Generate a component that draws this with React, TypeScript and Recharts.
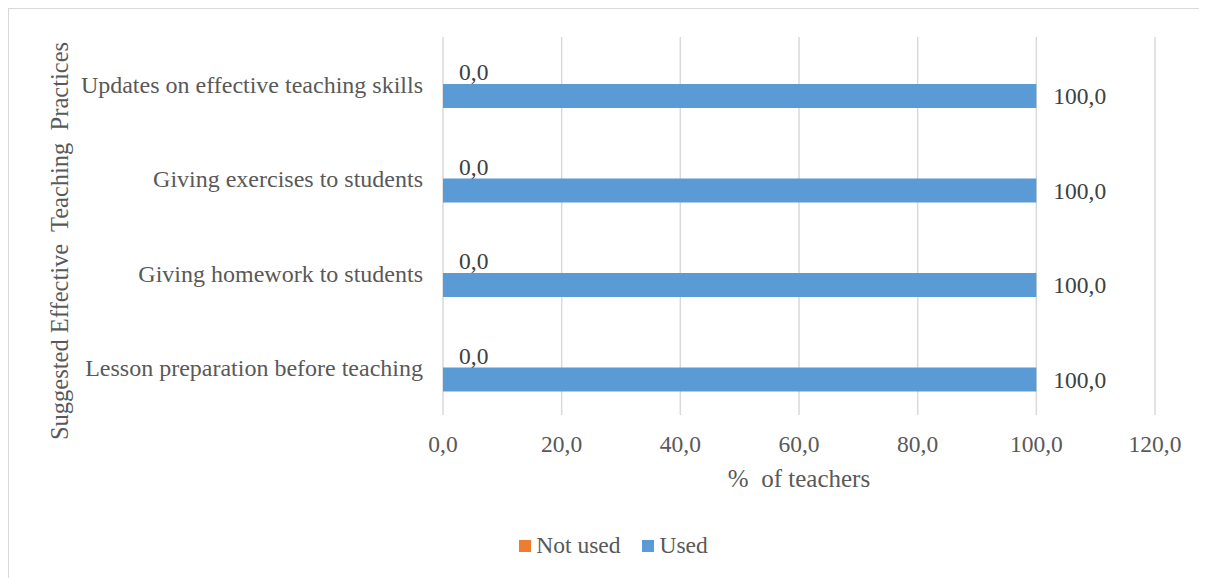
import React from 'react';
import { BarChart, Bar, XAxis, YAxis, CartesianGrid, Legend, LabelList, Label } from 'recharts';

const categories = [
  'Updates on effective teaching skills',
  'Giving exercises to students',
  'Giving homework to students',
  'Lesson preparation before teaching',
];
const notUsedValues = [0, 0, 0, 0];
const usedValues = [100, 100, 100, 100];
const xTicks = [0, 20, 40, 60, 80, 100, 120];

const data = categories.map((name, i) => ({
  name,
  notUsed: notUsedValues[i],
  used: usedValues[i],
}));

const FONT = '"Liberation Serif", "Times New Roman", serif';
const BAR_SIZE = 24;
const fmt = (v: number) => Number(v).toFixed(1).replace('.', ',');

// Value label to the right of the "Used" bar end.
const renderUsedLabel = (props: any) => {
  const { x, y, width, height, value } = props;
  if (value === undefined || value === null) return null;
  return (
    <text
      x={Number(x) + Number(width) + 17}
      y={Number(y) + Number(height) / 2}
      dy="0.35em"
      textAnchor="start"
      fill="#404040"
      fontSize={23.5}
      fontFamily={FONT}
    >
      {fmt(value)}
    </text>
  );
};

// Value label for the "Not used" bar, which sits directly above the "Used" bar.
// Its end is found on the same linear scale (both bars start at 0).
const renderNotUsedLabel = (props: any) => {
  const { x, y, width, index } = props;
  const row = data[index];
  if (!row) return null;
  const pxPerUnit = row.used ? Number(width) / row.used : 0;
  const endX = Number(x) + row.notUsed * pxPerUnit;
  return (
    <text
      x={endX + 16}
      y={Number(y) - BAR_SIZE / 2}
      dy="0.35em"
      textAnchor="start"
      fill="#404040"
      fontSize={23.5}
      fontFamily={FONT}
    >
      {fmt(row.notUsed)}
    </text>
  );
};

const LegendContent = (props: any) => {
  const { payload = [] } = props;
  return (
    <div style={{ display: 'flex', justifyContent: 'center', alignItems: 'center', paddingLeft: 64, fontFamily: FONT, fontSize: 23.5, color: '#595959' }}>
      {payload.map((p: any, i: number) => (
        <div key={i} style={{ display: 'flex', alignItems: 'center', marginRight: i === payload.length - 1 ? 0 : 22 }}>
          <span style={{ display: 'inline-block', width: 12, height: 12, background: p.color, marginRight: 5 }} />
          <span>{p.value}</span>
        </div>
      ))}
    </div>
  );
};

export default function App() {
  return (
    <div style={{ position: 'relative', width: 1190, height: 570, fontFamily: FONT }}>
      {/* frame lines along the top and left edges of the chart area */}
      <div style={{ position: 'absolute', left: -1, top: -1, width: 1200, height: 1.5, background: '#d9d9d9' }} />
      <div style={{ position: 'absolute', left: -1, top: -1, width: 1.5, height: 571, background: '#d9d9d9' }} />
      <BarChart
        width={1190}
        height={570}
        data={data}
        layout="vertical"
        margin={{ top: 29, right: 43, left: 0, bottom: 16 }}
        barGap={0}
        barSize={BAR_SIZE}
      >
        <CartesianGrid horizontal={false} stroke="#d9d9d9" strokeWidth={1.5} />
        <XAxis
          type="number"
          domain={[0, 120]}
          ticks={xTicks}
          tickFormatter={fmt}
          axisLine={false}
          tickLine={false}
          tickMargin={14}
          height={117}
          tick={{ fill: '#595959', fontSize: 23.5, fontFamily: FONT }}
        >
          <Label value={'%\u00A0 of teachers'} position="insideTop" offset={54} fill="#595959" fontSize={25} fontFamily={FONT} />
        </XAxis>
        <YAxis
          type="category"
          dataKey="name"
          width={435}
          axisLine={false}
          tickLine={false}
          tickMargin={14}
          tick={{ fill: '#595959', fontSize: 24, fontFamily: FONT }}
        >
          <Label
            value={'Suggested Effective\u00A0 Teaching\u00A0 Practices'}
            position="center"
            angle={-90}
            dx={-166}
            dy={15}
            fill="#595959"
            fontSize={24.5}
            fontFamily={FONT}
          />
        </YAxis>
        <Legend verticalAlign="bottom" height={30} content={<LegendContent />} />
        <Bar dataKey="notUsed" name="Not used" fill="#ED7D31" isAnimationActive={false} />
        <Bar dataKey="used" name="Used" fill="#5B9BD5" isAnimationActive={false}>
          <LabelList dataKey="used" content={renderUsedLabel} />
          <LabelList dataKey="notUsed" content={renderNotUsedLabel} />
        </Bar>
      </BarChart>
    </div>
  );
}
